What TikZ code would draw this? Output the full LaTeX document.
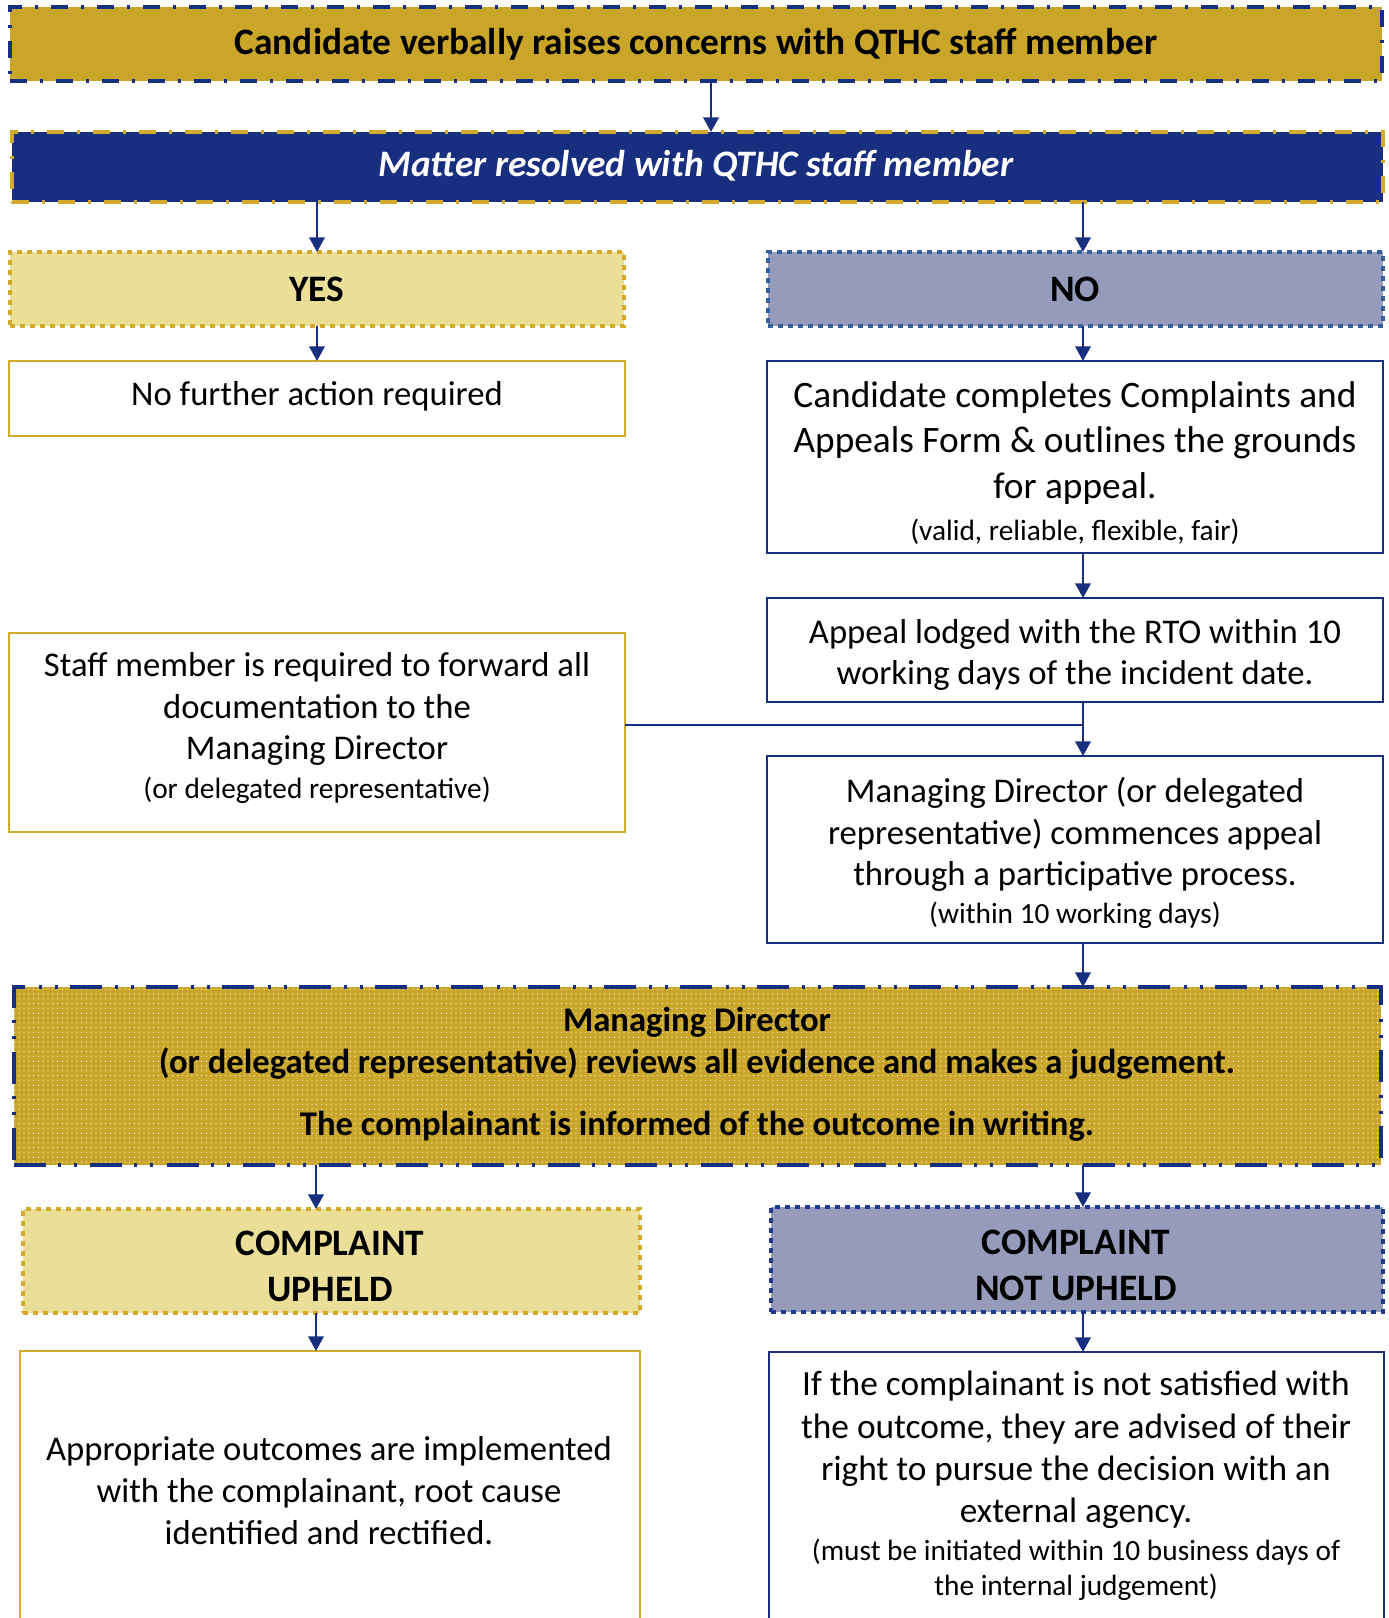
\documentclass[tikz,border=0pt]{standalone}
\usepackage{fontspec}
\setmainfont{Carlito}
\usetikzlibrary{arrows.meta,patterns.meta}
\definecolor{gold}{HTML}{C9A62A}
\definecolor{goldline}{HTML}{D4AA2D}
\definecolor{navy}{HTML}{182E7E}
\definecolor{navytwo}{HTML}{203A8C}
\definecolor{steel}{HTML}{375F9B}
\definecolor{yesfill}{HTML}{EBDF97}
\definecolor{nofill}{HTML}{979BBB}
\definecolor{dotc}{HTML}{F3E9BE}
\newcommand\mkbox[6]{\node[#1, minimum width={(#5-#3)*0.75pt}, minimum height={(#6-#4)*0.75pt}] (#2) at ({(#3+#5)/2},{(#4+#6)/2}) {};}
\newcommand\smallfs{\fontsize{22pt}{26pt}\selectfont}
\begin{document}
\begin{tikzpicture}[x=0.75pt,y=-0.75pt,
  base/.style={rectangle, inner sep=0pt, outer sep=0pt},
  topbox/.style={base, fill=gold, draw=navy, line width=3pt, dash pattern=on 12.75pt off 9.5pt on 2.25pt off 10pt},
  matterbox/.style={base, fill=navy, draw=goldline, line width=3pt, dash pattern=on 12.75pt off 9.5pt on 2.25pt off 10pt},
  yesbox/.style={base, fill=yesfill, draw=goldline, line width=3.4pt, dash pattern=on 3.6pt off 3.9pt},
  nobox/.style={base, fill=nofill, draw=steel, line width=3.4pt, dash pattern=on 3.6pt off 3.9pt},
  nupbox/.style={base, fill=nofill, draw=navytwo, line width=3.4pt, dash pattern=on 3.6pt off 3.9pt},
  goldtxt/.style={base, fill=white, draw=goldline, line width=1.8pt},
  navytxt/.style={base, fill=white, draw=navy, line width=1.8pt},
  bigbox/.style={base, preaction={fill=gold}, pattern={Dots[distance=3.6pt, radius=0.55pt]}, pattern color=dotc, draw=navy, line width=3pt, dash pattern=on 24pt off 9pt on 2.25pt off 9.75pt on 2.25pt off 10pt},
  txt/.style={inner sep=0pt, align=center, text=black},
  arr/.style={draw=navy, line width=2pt, -{Triangle[width=11.5pt,length=11pt]}},
  joinline/.style={draw=navy, line width=1.8pt}
]
\useasboundingbox (0,0) rectangle (1389,1618);
\fill[white] (0,0) rectangle (1389,1618);
\begin{scope}
\clip (0,0) rectangle (1389,1618);
% boxes
\mkbox{topbox}{b1}{10}{7}{1382}{81}
\mkbox{matterbox}{b2}{12}{132}{1383}{202}
\mkbox{yesbox}{yes}{10}{252}{624}{326}
\mkbox{nobox}{no}{768}{252}{1383}{326}
\mkbox{goldtxt}{nfa}{9}{361}{625}{436}
\mkbox{navytxt}{cc}{767}{361}{1383}{553}
\mkbox{navytxt}{appeal}{767}{598}{1383}{702}
\mkbox{goldtxt}{staff}{9}{633}{625}{832}
\mkbox{navytxt}{md}{767}{756}{1383}{943}
\mkbox{bigbox}{big}{14}{987}{1381}{1165}
\mkbox{yesbox}{up}{23}{1209}{640}{1313}
\mkbox{nupbox}{nup}{771}{1207}{1383}{1312}
\mkbox{goldtxt}{app}{20}{1351}{640}{1660}
\mkbox{navytxt}{ifb}{769}{1352}{1384}{1660}
% texts
\node[txt, font=\bfseries\fontsize{28pt}{34pt}\selectfont] (t1) at (696,44) {Candidate verbally raises concerns with QTHC staff member};
\node[txt, text=white, font=\bfseries\itshape\fontsize{28pt}{34pt}\selectfont] (t2) at (696,166) {Matter resolved with QTHC staff member};
\node[txt, font=\bfseries\fontsize{28pt}{34pt}\selectfont] (tyes) at (317,289) {YES};
\node[txt, font=\bfseries\fontsize{28pt}{34pt}\selectfont] (tno) at (1075,289) {NO};
\node[txt, font=\fontsize{26pt}{31pt}\selectfont] (tnfa) at (317,396) {No further action required};
\node[txt, font=\fontsize{28pt}{34pt}\selectfont] (tcc) at (1075,463) {Candidate completes Complaints and\\Appeals Form \& outlines the grounds\\for appeal.\\[-2.5pt]{\smallfs (valid, reliable, flexible, fair)}};
\node[txt, font=\fontsize{26pt}{31pt}\selectfont] (tappeal) at (1075,655) {Appeal lodged with the RTO within 10\\working days of the incident date.};
\node[txt, font=\fontsize{26pt}{31pt}\selectfont] (tstaff) at (317,728) {Staff member is required to forward all\\documentation to the\\Managing Director\\[-2pt]{\smallfs (or delegated representative)}};
\node[txt, font=\fontsize{26pt}{31pt}\selectfont] (tmd) at (1075,853) {Managing Director (or delegated\\representative) commences appeal\\through a participative process.\\[-2.5pt]{\smallfs (within 10 working days)}};
\node[txt, font=\bfseries\fontsize{26pt}{31.5pt}\selectfont] (tbig) at (697,1074) {Managing Director\\(or delegated representative) reviews all evidence and makes a judgement.\\[15pt]The complainant is informed of the outcome in writing.};
\node[txt, font=\bfseries\fontsize{28pt}{34.5pt}\selectfont] (tup) at (330,1266) {COMPLAINT\\UPHELD};
\node[txt, font=\bfseries\fontsize{28pt}{34.5pt}\selectfont] (tnup) at (1076,1265) {COMPLAINT\\NOT UPHELD};
\node[txt, font=\fontsize{26pt}{31.5pt}\selectfont] (tapp) at (329,1491) {Appropriate outcomes are implemented\\with the complainant, root cause\\identified and rectified.};
\node[txt, font=\fontsize{26.5pt}{31.7pt}\selectfont] (tif) at (1076,1486) {If the complainant is not satisfied with\\the outcome, they are advised of their\\right to pursue the decision with an\\external agency.\\[-3pt]{\smallfs (must be initiated within 10 business days of}\\[-5.7pt]{\smallfs the internal judgement)}};
% connector columns
\coordinate (xm) at (711,0);
\coordinate (xl) at (317,0);
\coordinate (xl2) at (316,0);
\coordinate (xr) at (1083,0);
\coordinate (jn) at (1083,725);
\draw[arr] (b1.south -| xm) -- (b2.north -| xm);
\draw[arr] (b2.south -| xl) -- (yes.north -| xl);
\draw[arr] (b2.south -| xr) -- (no.north -| xr);
\draw[arr] (yes.south -| xl) -- (nfa.north -| xl);
\draw[arr] (no.south -| xr) -- (cc.north -| xr);
\draw[arr] (cc.south -| xr) -- (appeal.north -| xr);
\draw[arr] (appeal.south -| xr) -- (md.north -| xr);
\draw[joinline] (staff.east |- jn) -- (jn);
\draw[arr] (md.south -| xr) -- (big.north -| xr);
\draw[arr] (big.south -| xl2) -- (up.north -| xl2);
\draw[arr] (big.south -| xr) -- (nup.north -| xr);
\draw[arr] (up.south -| xl2) -- (app.north -| xl2);
\draw[arr] (nup.south -| xr) -- (ifb.north -| xr);
\end{scope}
\end{tikzpicture}
\end{document}
